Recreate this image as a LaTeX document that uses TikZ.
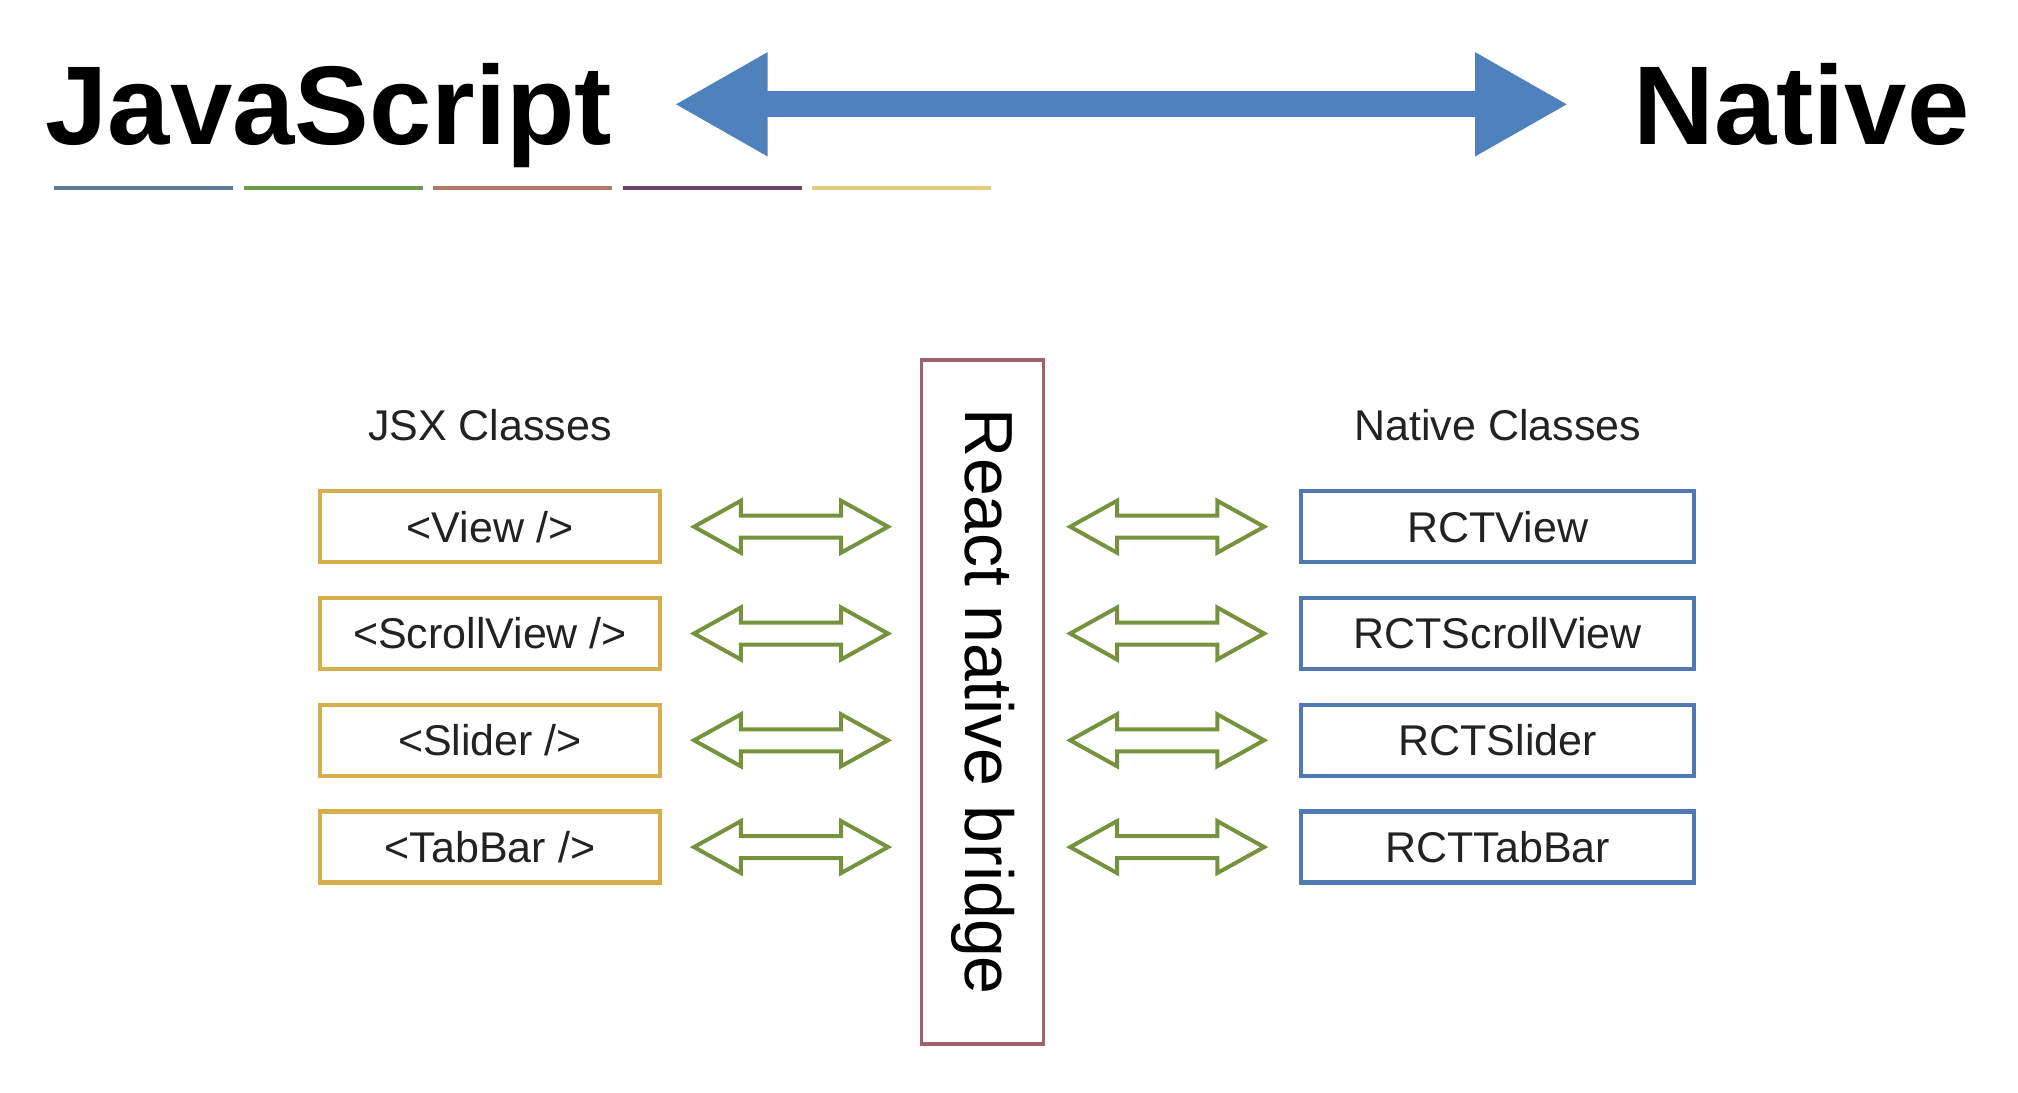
\documentclass[tikz,border=0pt]{standalone}
\usepackage{fontspec}
\setmainfont{Liberation Sans}
\usepackage{tikz}
\usetikzlibrary{positioning, shapes.arrows, arrows.meta, calc}

\definecolor{jsblue}{HTML}{4F81BD}
\definecolor{jsxgold}{HTML}{D6AE4E}
\definecolor{rctblue}{HTML}{4E79B4}
\definecolor{bridgered}{HTML}{A0606C}
\definecolor{linkgreen}{HTML}{76923C}
\definecolor{txtgray}{HTML}{222222}

\tikzset{
    title/.style={font=\fontsize{56}{60}\selectfont\bfseries, inner sep=0pt, text height=40pt, text depth=0pt},
    label/.style={font=\fontsize{21.5}{24}\selectfont, text=txtgray, inner sep=0pt},
    jsxbox/.style={draw=jsxgold, line width=2.2pt, minimum width=170pt, minimum height=35.5pt, font=\fontsize{21.5}{24}\selectfont, text=txtgray},
    rctbox/.style={draw=rctblue, line width=2.2pt, minimum width=196.5pt, minimum height=35.5pt, font=\fontsize{21.5}{24}\selectfont, text=txtgray},
    link/.style={double arrow, draw=linkgreen, line width=2pt, inner sep=4.5pt, minimum height=97pt, double arrow head extend=7.5pt, double arrow tip angle=58},
}

\begin{document}
\begin{tikzpicture}[x=0.644pt, y=-0.644pt]
    \useasboundingbox (0, 0) rectangle (1567, 848);

    % top line
    \node[title, anchor=west] (js) at (35, 81) {JavaScript};
    \node[title, anchor=west] (nat) at (1268, 81) {Native};
    \draw[jsblue, line width=13pt, shorten <=31pt, shorten >=32.3pt,
        {Triangle[length=46.6pt, width=48.5pt]}-{Triangle[length=46.6pt, width=48.5pt]}] (js.east) -- (nat.west);

    % coloured rule
    \foreach \c [count=\i from 0] in {5A7A95, 6B9A4E, B07A68, 6E4168, E3CC7A} {
        \definecolor{rule}{HTML}{\c}
        \draw[rule, line width=2pt] (42+147.2*\i, 146) -- ++(139, 0);
    }

    % bridge
    \node[draw=bridgered, line width=1.8pt, minimum width=61pt, minimum height=342pt] (bridge) at (763, 545) {};
    \node[rotate=-90, font=\fontsize{34}{38}\selectfont, text=black] at (bridge.center) {React native bridge};

    % JSX side
    \node[jsxbox] (v1) at (380.5, 409) {<View />};
    \node[jsxbox, below=15.7pt of v1] (v2) {<ScrollView />};
    \node[jsxbox, below=15.7pt of v2] (v3) {<Slider />};
    \node[jsxbox, below=15.7pt of v3] (v4) {<TabBar />};
    \node[label, above=24pt of v1] {JSX Classes};

    % native side
    \node[rctbox] (r1) at (1163, 409) {RCTView};
    \node[rctbox, below=15.7pt of r1] (r2) {RCTScrollView};
    \node[rctbox, below=15.7pt of r2] (r3) {RCTSlider};
    \node[rctbox, below=15.7pt of r3] (r4) {RCTTabBar};
    \node[label, above=24pt of r1] {Native Classes};

    % links
    \foreach \i in {1,...,4} {
        \node[link] (la\i) at ($(v\i.east)!0.5!(bridge.west |- v\i)$) {};
        \node[link] (lb\i) at ($(bridge.east |- r\i)!0.48!(r\i.west)$) {};
    }
\end{tikzpicture}
\end{document}
